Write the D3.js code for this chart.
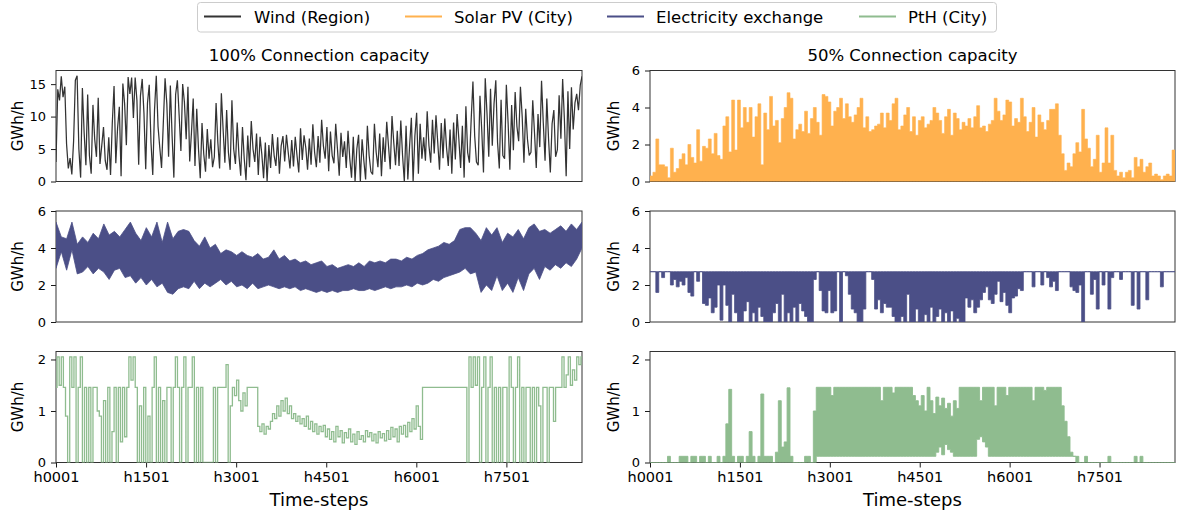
<!DOCTYPE html>
<html>
<head>
<meta charset="utf-8">
<script src="https://cdn.jsdelivr.net/npm/d3@7"></script>
<style>
body { margin: 0; background: #fff; }
text { font-family: "DejaVu Sans", sans-serif; fill: #000; }
</style>
</head>
<body>
<svg id="chart"></svg>
<script>
// ---- data (hourly year, h0001..h8760) ----
var lastHour = 8759;
var tickHours = [0, 1500, 3000, 4500, 6000, 7500];
var tickLabels = ["h0001", "h1501", "h3001", "h4501", "h6001", "h7501"];
var seriesNames = ["Wind (Region)", "Solar PV (City)", "Electricity exchange", "PtH (City)"];
var seriesColors = ["#333333", "#ffb14e", "#4b4f87", "#8fbc8f"];
var panelTitles = ["100% Connection capacity", "50% Connection capacity"];

// wind, 100% case (evenly spaced readings)
var windValues = [
  3, 14.2, 12.5, 16.2, 13.0, 14.6, 5.8, 2.0, 3.6, 1.1, 6.2, 15.6, 16.3, 5.0, 0.6,
  14.4, 7.5, 2.5, 13.4, 4.0, 1.2, 11.8, 6.5, 3.8, 12.9, 2.7, 5.5, 8.4, 3.2, 1.8,
  6.8, 1.0, 9.0, 14.7, 2.8, 8.2, 11.5, 0.8, 15.1, 12.0, 5.6, 16.1, 13.5, 16.0, 9.8,
  16.0, 12.5, 2.6, 13.2, 15.8, 10.5, 1.9, 12.1, 14.9, 6.0, 1.0, 11.0, 16.3, 8.5, 5.2,
  2.1, 9.0, 15.9, 12.0, 3.8, 14.8, 7.0, 0.6, 13.4, 15.6, 10.2, 4.7, 15.0, 12.2, 6.5,
  14.6, 3.1, 7.5, 12.8, 2.4, 11.2, 5.0, 0.5, 9.0, 4.2, 1.5, 8.1, 3.5, 6.5, 2.2,
  3.8, 12.1, 6.0, 2.0, 13.6, 8.0, 2.9, 11.0, 4.5, 1.8, 12.5, 5.0, 2.7, 9.1, 4.0,
  0.9, 8.4, 3.5, 0.2, 7.1, 2.2, 9.3, 5.0, 3.0, 7.4, 1.0, 6.9, 4.2, 0.5, 6.0,
  0.0, 5.6, 2.1, 7.3, 4.0, 2.4, 6.8, 1.2, 5.5, 7.0, 3.1, 7.2, 4.5, 2.0, 6.4,
  2.3, 6.9, 4.0, 1.4, 8.2, 3.3, 7.1, 5.2, 1.8, 6.6, 2.6, 8.8, 4.5, 2.2, 7.0,
  2.9, 9.5, 5.5, 3.5, 8.4, 1.6, 7.7, 4.0, 2.8, 8.9, 5.0, 0.9, 7.5, 3.8, 6.2,
  2.1, 7.8, 3.5, 0.6, 6.9, 0.0, 5.0, 7.2, 0.0, 6.5, 3.2, 0.3, 8.6, 4.0, 1.5,
  1.1, 8.9, 4.5, 2.2, 7.4, 0.8, 6.8, 3.0, 9.2, 5.5, 1.9, 10.1, 6.0, 2.5, 7.8,
  2.4, 9.4, 4.0, 0.0, 8.6, 0.3, 5.5, 9.8, 0.0, 7.0, 10.6, 1.2, 8.9, 3.5, 6.8,
  3.2, 10.8, 5.5, 2.9, 9.5, 4.3, 10.2, 6.0, 1.8, 9.0, 3.6, 9.7, 5.2, 2.4, 8.0,
  1.2, 9.1, 3.4, 10.4, 6.5, 2.1, 8.6, 0.6, 11.6, 4.5, 2.9, 9.5, 15.4, 7.0, 3.0,
  2.5, 13.2, 8.0, 1.4, 15.9, 10.5, 3.8, 14.3, 5.5, 12.0, 15.6, 6.0, 2.0, 12.6, 4.0,
  3.5, 14.9, 9.0, 1.8, 11.8, 4.8, 13.8, 8.5, 6.2, 14.6, 10.0, 2.9, 11.2, 6.5, 4.0,
  4.5, 12.5, 7.5, 2.1, 10.4, 5.3, 15.5, 9.0, 3.2, 12.8, 6.5, 1.4, 8.9, 11.0, 3.8,
  4.9, 13.3, 6.6, 15.8, 9.5, 0.8, 13.9, 5.0, 14.5, 8.0, 12.1, 13.5, 11.0, 14.8, 16.2
];

// electricity exchange, 100% case: upper / lower envelope per bin
var exchangeLeftHi = [
  5.4, 4.6, 4.5, 5.4, 4.2, 4.6, 4.3, 4.8, 4.5, 5.3,
  4.7, 4.9, 4.6, 5.0, 5.4, 4.8, 4.4, 5.1, 4.6, 5.4,
  4.3, 5.4, 4.5, 4.9, 5.0, 4.9, 4.4, 4.1, 4.6, 4.0,
  4.2, 3.7, 3.9, 3.8, 3.6, 3.8, 3.6, 3.5, 3.7, 3.4,
  3.5, 3.9, 3.4, 3.6, 3.3, 3.4, 3.2, 3.3, 3.1, 3.2,
  3.3, 3.0, 3.1, 2.9, 3.0, 3.1, 3.0, 3.2, 3.0, 3.3,
  3.2, 3.3, 3.2, 3.4, 3.4, 3.3, 3.5, 3.4, 3.6, 3.7,
  3.9, 4.0, 4.1, 4.3, 4.2, 4.4, 5.0, 5.1, 5.1, 4.8,
  4.4, 5.1, 4.7, 5.1, 4.3, 4.8, 4.6, 5.0, 4.5, 5.1,
  5.3, 4.9, 5.0, 4.8, 5.0, 5.2, 4.9, 5.3, 5.0, 5.4
];
var exchangeLeftLo = [
  2.9, 3.8, 2.8, 3.9, 2.6, 2.7, 3.0, 2.6, 2.9, 2.7,
  2.3, 2.8, 2.9, 2.4, 2.5, 2.1, 2.4, 2.0, 2.3, 1.9,
  2.1, 1.6, 1.5, 1.8, 1.9, 1.8, 2.2, 1.8, 2.1, 1.9,
  2.1, 2.3, 2.0, 2.2, 1.9, 2.0, 1.8, 2.1, 1.8, 1.9,
  2.0, 1.9, 1.8, 1.9, 1.8, 1.9, 1.7, 1.8, 1.7, 1.6,
  1.7, 1.6, 1.7, 1.6, 1.7, 1.7, 1.8, 1.7, 1.7, 1.8,
  1.7, 1.8, 1.9, 1.8, 1.9, 1.9, 2.0, 1.9, 2.1, 2.0,
  2.1, 2.3, 2.2, 2.4, 2.5, 2.6, 2.7, 2.9, 2.6, 2.7,
  1.6, 2.0, 1.7, 2.5, 1.7, 2.1, 1.6, 2.4, 1.7, 2.6,
  2.9, 2.3, 3.0, 2.8, 3.1, 2.9, 3.2, 3.0, 3.4, 4.0
];

// PtH, 100% case
var pthLeftValues = [
  1.46, 2.05, 1.5, 2.05, 1.46, 0.9, 0, 2.05, 1.46, 2.05,
  0, 1.46, 2.05, 0, 1.46, 0, 1.46, 0, 1.46, 1.46,
  1.0, 0.9, 0, 1.2, 0, 1.46, 0, 0.6, 1.46, 0,
  1.46, 0.4, 1.46, 0.5, 1.46, 2.05, 1.6, 2.05, 1.46, 0,
  1.1, 0, 1.46, 0, 0.9, 0, 1.46, 2.05, 0, 1.46,
  0, 1.2, 0, 1.46, 1.46, 0, 1.46, 2.05, 1.46, 0,
  1.46, 2.05, 0, 1.46, 1.46, 2.05, 0, 1.46, 0, 1.46,
  0, 0, 0, 0, 0, 1.46, 0, 1.46, 1.46, 1.46,
  1.46, 1.9, 0, 1.1, 1.46, 1.3, 1.6, 1.2, 1.0, 1.35,
  1.1, 1.46, 1.46, 1.46, 1.46, 1.46, 0.7, 0.6, 0.75, 0.55,
  0.7, 0.65, 0.8, 0.95, 0.85, 1.1, 0.9, 1.2, 1.0, 1.25,
  0.95, 1.1, 0.85, 0.95, 0.8, 0.9, 0.75, 0.85, 0.7, 0.9,
  0.65, 0.8, 0.6, 0.75, 0.55, 0.7, 0.6, 0.72, 0.5, 0.65,
  0.45, 0.6, 0.4, 0.7, 0.5, 0.62, 0.38, 0.58, 0.48, 0.65,
  0.4, 0.55, 0.35, 0.6, 0.45, 0.52, 0.4, 0.62, 0.5, 0.58,
  0.42, 0.55, 0.38, 0.6, 0.48, 0.56, 0.42, 0.62, 0.45, 0.68,
  0.5, 0.65, 0.4, 0.7, 0.55, 0.72, 0.5, 0.78, 0.6, 0.85,
  0.65, 1.1, 0.7, 0.45, 1.46, 1.46, 1.46, 1.46, 1.46, 1.46,
  1.46, 1.46, 1.46, 1.46, 1.46, 1.46, 1.46, 1.46, 1.46, 1.46,
  1.46, 1.46, 1.46, 1.46, 1.46, 0, 2.05, 1.46, 2.05, 1.5,
  2.05, 0, 1.46, 2.05, 0, 1.46, 2.05, 0, 1.46, 0,
  1.46, 0, 1.46, 1.46, 0, 2.05, 1.46, 0, 1.46, 2.05,
  0, 1.46, 0, 1.46, 1.46, 0, 1.46, 0, 1.46, 1.1,
  0, 1.46, 1.46, 0, 1.46, 1.46, 0.8, 1.46, 1.46, 1.46,
  2.05, 1.46, 1.7, 2.05, 1.5, 1.8, 1.6, 2.05, 1.9, 2.05
];

// solar PV, 50% case: peak per bin
var solarPeaks = [
  0.3, 0.5, 2.3, 0.9, 0.9, 0.8, 0.2, 1.8, 0.5, 0.7,
  1.2, 1.5, 0.9, 2.0, 1.3, 1.0, 2.8, 1.1, 1.9, 1.8,
  2.3, 1.5, 2.6, 1.4, 1.2, 3.0, 3.5, 1.6, 4.4, 1.7,
  4.4, 2.9, 4.0, 3.2, 4.0, 2.4, 3.5, 4.2, 0.9, 3.7,
  2.8, 4.6, 3.0, 3.3, 2.1, 3.4, 4.0, 4.8, 4.5, 2.3,
  2.8, 3.1, 2.7, 3.8, 2.6, 3.4, 4.0, 3.2, 2.5, 4.7,
  4.6, 4.3, 3.0, 3.8, 4.0, 4.5, 3.4, 4.2, 3.5, 3.2,
  3.6, 4.0, 4.5, 2.9, 3.5, 2.7, 2.8, 3.0, 3.1, 3.7,
  2.9, 3.7, 3.3, 4.2, 4.5, 2.8, 3.0, 3.6, 4.0, 2.7,
  3.5, 2.5, 3.3, 3.5, 2.9, 3.1, 3.3, 4.0, 3.7, 3.3,
  2.6, 3.5, 3.9, 2.5, 3.7, 3.4, 2.8, 3.2, 3.0, 3.4,
  2.9, 3.5, 4.1, 2.9, 3.0, 2.7, 3.1, 3.3, 4.5, 3.8,
  3.3, 3.6, 4.4, 4.3, 3.0, 3.4, 3.2, 4.5, 3.5, 2.7,
  3.2, 4.0, 2.4, 3.6, 3.2, 2.8, 3.3, 3.9, 3.9, 4.2,
  2.5, 1.5, 0.6, 1.0, 0.8, 1.5, 2.1, 1.6, 3.9, 2.3,
  1.8, 0.8, 1.2, 2.5, 0.5, 1.0, 2.9, 1.0, 2.5, 0.6,
  0.3, 0.5, 0.2, 0.5, 0.6, 0.2, 1.3, 0.8, 1.2, 0.5,
  0.8, 1.0, 0.3, 0.4, 0.3, 0.1, 0.3, 0.4, 0.3, 1.7
];

// electricity exchange, 50% case: capped at the connection, dips per bin
var exchangeRightCap = 2.72;
var exchangeRightLo = [
  2.72, 2.72, 1.6, 2.72, 2.4, 2.72, 2.72, 2.0, 2.3, 1.9,
  2.2, 2.0, 2.4, 1.6, 1.4, 2.72, 2.2, 2.72, 1.0, 0.9,
  1.3, 0.5, 0.8, 2.0, 0.1, 2.0, 0.9, 0.0, 1.5, 0.5,
  0.0, 0.0, 0.6, 1.1, 0.0, 0.5, 0.0, 0.8, 0.3, 0.0,
  0.0, 0.0, 0.5, 1.0, 0.0, 1.5, 0.0, 0.5, 0.0, 0.8,
  0.0, 1.0, 0.6, 0.3, 0.0, 0.0, 2.3, 2.72, 1.7, 0.6,
  0.5, 1.7, 0.5, 0.6, 2.72, 0.0, 2.72, 2.5, 1.5, 0.7,
  0.5, 0.0, 0.0, 0.7, 2.72, 2.72, 2.3, 0.7, 1.2, 0.5,
  1.0, 0.8, 0.8, 0.3, 0.0, 0.0, 0.3, 0.0, 1.5, 0.0,
  0.0, 0.7, 0.0, 0.0, 0.4, 0.0, 0.8, 0.0, 0.3, 0.7,
  0.0, 0.5, 0.0, 0.6, 0.0, 0.2, 0.0, 0.0, 1.3, 0.8,
  1.2, 0.5, 0.8, 1.2, 1.6, 1.9, 1.2, 1.0, 1.5, 2.2,
  1.1, 1.6, 0.9, 0.5, 1.3, 1.4, 1.8, 1.7, 2.72, 2.72,
  2.72, 1.9, 2.72, 2.72, 2.0, 2.72, 2.4, 1.9, 2.2, 1.7,
  2.72, 2.72, 2.72, 2.72, 1.9, 1.7, 1.6, 2.0, 0.0, 2.72,
  2.72, 1.5, 2.3, 0.7, 2.72, 2.0, 2.72, 0.7, 2.4, 2.72,
  2.72, 2.3, 2.72, 2.72, 2.72, 0.9, 2.72, 0.7, 2.72, 2.72,
  1.2, 2.72, 2.72, 2.72, 2.72, 1.9, 2.72, 2.72, 2.72, 2.72
];

// PtH, 50% case: upper / lower value per bin
var pthRightHi = [
  0, 0, 0, 0, 0, 0, 0.12, 0, 0, 0,
  0.12, 0.12, 0.12, 0, 0.12, 0.12, 0, 0.12, 0.12, 0,
  0.12, 0, 0, 0.12, 0, 0.12, 0.75, 1.42, 0.12, 0,
  0.12, 0.12, 0, 0.12, 0.6, 0.12, 0, 0.12, 1.33, 0.12,
  0.12, 0.12, 0, 0.2, 1.2, 0.3, 0.4, 1.45, 0.12, 0,
  0, 0, 0, 0.12, 0.12, 0, 1.0, 1.46, 1.46, 1.46,
  1.46, 1.46, 1.3, 1.46, 1.46, 1.46, 1.46, 1.46, 1.46, 1.46,
  1.46, 1.46, 1.46, 1.46, 1.46, 1.46, 1.46, 1.46, 1.46, 1.2,
  1.46, 1.46, 1.46, 1.35, 1.46, 1.46, 1.46, 1.46, 1.46, 1.46,
  1.3, 1.2, 1.1, 1.3, 1.0, 1.46, 1.2, 0.95, 1.27, 1.1,
  1.25, 1.05, 1.15, 0.9, 1.2, 1.05, 1.46, 1.46, 1.46, 1.46,
  1.46, 1.46, 1.46, 1.2, 1.46, 1.46, 1.46, 1.46, 1.1, 1.46,
  1.46, 1.46, 1.3, 1.46, 1.46, 1.46, 1.46, 1.46, 1.46, 1.46,
  1.46, 1.2, 1.46, 1.46, 1.46, 1.4, 1.46, 1.46, 1.46, 1.46,
  1.46, 1.1, 0.8, 0.5, 0.2, 0.12, 0.12, 0, 0, 0.12,
  0, 0, 0, 0, 0, 0, 0, 0.12, 0, 0,
  0, 0, 0, 0, 0, 0, 0.12, 0, 0.12, 0,
  0, 0, 0, 0, 0, 0, 0, 0, 0, 0
];
var pthRightLo = [
  0, 0, 0, 0, 0, 0, 0, 0, 0, 0,
  0, 0, 0, 0, 0, 0, 0, 0, 0, 0,
  0, 0, 0, 0, 0, 0, 0, 0, 0, 0,
  0, 0, 0, 0, 0, 0, 0, 0, 0, 0,
  0, 0, 0, 0, 0, 0, 0, 0, 0, 0,
  0, 0, 0, 0, 0, 0, 0, 0.12, 0.12, 0.12,
  0.12, 0.12, 0.12, 0.12, 0.12, 0.12, 0.12, 0.12, 0.12, 0.12,
  0.12, 0.12, 0.12, 0.12, 0.12, 0.12, 0.12, 0.12, 0.12, 0.12,
  0.12, 0.12, 0.12, 0.12, 0.12, 0.12, 0.12, 0.12, 0.12, 0.12,
  0.12, 0.12, 0.12, 0.12, 0.12, 0.12, 0.12, 0.12, 0.2, 0.3,
  0.15, 0.35, 0.25, 0.2, 0.12, 0.12, 0.12, 0.12, 0.12, 0.12,
  0.12, 0.12, 0.45, 0.5, 0.4, 0.3, 0.12, 0.12, 0.12, 0.12,
  0.12, 0.12, 0.12, 0.12, 0.12, 0.12, 0.12, 0.12, 0.12, 0.12,
  0.12, 0.12, 0.12, 0.12, 0.12, 0.12, 0.12, 0.12, 0.12, 0.12,
  0.12, 0.12, 0.12, 0.12, 0.12, 0.12, 0, 0, 0, 0,
  0, 0, 0, 0, 0, 0, 0, 0, 0, 0,
  0, 0, 0, 0, 0, 0, 0, 0, 0, 0,
  0, 0, 0, 0, 0, 0, 0, 0, 0, 0
];

// ---- layout ----
var svgWidth = 1177;
var svgHeight = 513;
var colX = [56, 650];
var colW = [526, 525];
var rowY = [70.5, 211, 351.5];
var rowH = 111;

var svg = d3.select("#chart")
    .attr("width", svgWidth)
    .attr("height", svgHeight);

// x position of point i in an evenly spaced series of n points
function pointHour(i, n) { return i * lastHour / (n - 1); }
// left edge of bin i when a series has n bins
function binHour(i, n) { return i * lastHour / n; }
function extendLast(arr) { return arr.concat([arr[arr.length - 1]]); }

var panels = [
    { col: 0, row: 0, yMax: 17.1, yTicks: [0, 5, 10, 15], kind: "wind" },
    { col: 0, row: 1, yMax: 6, yTicks: [0, 2, 4, 6], kind: "exLeft" },
    { col: 0, row: 2, yMax: 2.155, yTicks: [0, 1, 2], kind: "pthLeft" },
    { col: 1, row: 0, yMax: 6, yTicks: [0, 2, 4, 6], kind: "solar" },
    { col: 1, row: 1, yMax: 6, yTicks: [0, 2, 4, 6], kind: "exRight" },
    { col: 1, row: 2, yMax: 2.155, yTicks: [0, 1, 2], kind: "pthRight" }
];

panels.forEach(function(p, k) {
    var x0 = colX[p.col], y0 = rowY[p.row], w = colW[p.col];
    var g = svg.append("g").attr("transform", `translate(${x0}, ${y0})`);
    var xScale = d3.scaleLinear().domain([0, lastHour]).range([0, w]);
    var yScale = d3.scaleLinear().domain([0, p.yMax]).range([rowH, 0]);

    svg.append("clipPath").attr("id", "clip" + k)
        .append("rect").attr("x", x0).attr("y", y0).attr("width", w).attr("height", rowH);
    var plot = svg.append("g").attr("clip-path", `url(#clip${k})`)
        .append("g").attr("transform", `translate(${x0}, ${y0})`);

    if (p.kind == "wind") {
        var n = windValues.length;
        plot.append("path")
            .attr("d", d3.line().x((d, i) => xScale(pointHour(i, n))).y(d => yScale(d))(windValues))
            .attr("fill", "none").attr("stroke", seriesColors[0]).attr("stroke-width", 1.25)
            .attr("stroke-linejoin", "bevel");
    }
    if (p.kind == "exLeft") {
        var n = exchangeLeftHi.length;
        plot.append("path")
            .attr("d", d3.area()
                .x((d, i) => xScale(pointHour(i, n)))
                .y0((d, i) => yScale(exchangeLeftLo[i]))
                .y1(d => yScale(d))(exchangeLeftHi))
            .attr("fill", seriesColors[2]).attr("stroke", seriesColors[2]).attr("stroke-width", 0.8);
    }
    if (p.kind == "pthLeft") {
        var n = pthLeftValues.length;
        plot.append("path")
            .attr("d", d3.line().curve(d3.curveStep)
                .x((d, i) => xScale(pointHour(i, n))).y(d => yScale(d))(pthLeftValues))
            .attr("fill", "none").attr("stroke", seriesColors[3]).attr("stroke-width", 1.3);
    }
    if (p.kind == "solar") {
        var n = solarPeaks.length;
        plot.append("path")
            .attr("d", d3.area().curve(d3.curveStepAfter)
                .x((d, i) => xScale(binHour(i, n)))
                .y0(yScale(0)).y1(d => yScale(d))(extendLast(solarPeaks)))
            .attr("fill", seriesColors[1]).attr("stroke", seriesColors[1]).attr("stroke-width", 0.6);
    }
    if (p.kind == "exRight") {
        var n = exchangeRightLo.length;
        plot.append("path")
            .attr("d", d3.area().curve(d3.curveStepAfter)
                .x((d, i) => xScale(binHour(i, n)))
                .y0(yScale(exchangeRightCap)).y1(d => yScale(d))(extendLast(exchangeRightLo)))
            .attr("fill", seriesColors[2]).attr("stroke", seriesColors[2]).attr("stroke-width", 0.8);
    }
    if (p.kind == "pthRight") {
        var n = pthRightHi.length;
        var lo = extendLast(pthRightLo);
        plot.append("path")
            .attr("d", d3.area().curve(d3.curveStepAfter)
                .x((d, i) => xScale(binHour(i, n)))
                .y0((d, i) => yScale(lo[i])).y1(d => yScale(d))(extendLast(pthRightHi)))
            .attr("fill", seriesColors[3]).attr("stroke", seriesColors[3]).attr("stroke-width", 0.9);
    }

    // y axis
    var yAxis = d3.axisLeft(yScale).tickValues(p.yTicks).tickSize(5).tickPadding(5).tickFormat(d3.format("d"));
    var ya = g.append("g").call(yAxis);
    ya.select(".domain").remove();
    ya.selectAll("line").attr("stroke", "#000").attr("stroke-width", 0.9);
    ya.selectAll("text").style("font-size", "13px").style("font-family", "DejaVu Sans");

    // x axis on the bottom row only
    if (p.row == 2) {
        var xAxis = d3.axisBottom(xScale).tickValues(tickHours).tickSize(5).tickPadding(4)
            .tickFormat((d, i) => tickLabels[i]);
        var xa = g.append("g").attr("transform", `translate(0, ${rowH})`).call(xAxis);
        xa.select(".domain").remove();
        xa.selectAll("line").attr("stroke", "#000").attr("stroke-width", 0.9);
        xa.selectAll("text").style("font-size", "14.5px").style("font-family", "DejaVu Sans");
        g.append("text")
            .attr("x", w / 2).attr("y", 506 - y0)
            .style("text-anchor", "middle").style("font-size", "18px")
            .text("Time-steps");
    }

    // frame
    g.append("rect").attr("width", w).attr("height", rowH)
        .attr("fill", "none").attr("stroke", "#333").attr("stroke-width", 1);

    // y label
    svg.append("text")
        .attr("transform", `translate(${p.col == 0 ? 17.5 : 614}, ${y0 + rowH / 2}) rotate(-90)`)
        .attr("dy", "0.35em")
        .style("text-anchor", "middle").style("font-size", "15px")
        .text("GWh/h");

    if (p.row == 0) {
        svg.append("text")
            .attr("x", x0 + w / 2).attr("y", 61)
            .style("text-anchor", "middle").style("font-size", "16.5px")
            .text(panelTitles[p.col]);
    }
});

// legend
var legendLineX = [204, 405, 607, 859];
var legendTextX = [254, 454, 656, 908];
var legend = svg.append("g");
legend.append("rect")
    .attr("x", 197.5).attr("y", 2.5).attr("width", 799).attr("height", 29.5).attr("rx", 3)
    .attr("fill", "#fff").attr("stroke", "#cccccc").attr("stroke-width", 1);
seriesNames.forEach(function(name, i) {
    legend.append("line")
        .attr("x1", legendLineX[i]).attr("x2", legendLineX[i] + 37)
        .attr("y1", 16.5).attr("y2", 16.5)
        .attr("stroke", seriesColors[i]).attr("stroke-width", 2.2);
    legend.append("text")
        .attr("x", legendTextX[i]).attr("y", 22.5)
        .style("font-size", "16.5px")
        .text(name);
});
</script>
</body>
</html>
